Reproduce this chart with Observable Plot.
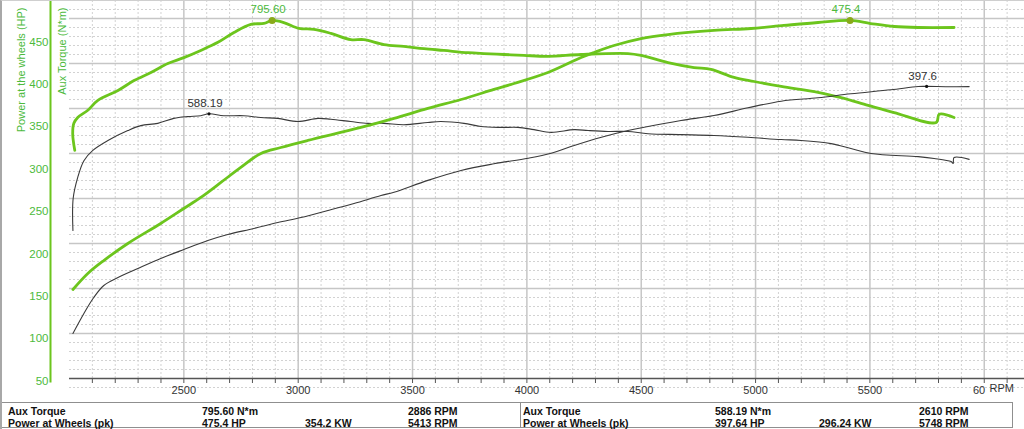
<!DOCTYPE html>
<html>
<head>
<meta charset="utf-8">
<script src="https://cdn.jsdelivr.net/npm/d3@7"></script>
<script src="https://cdn.jsdelivr.net/npm/@observablehq/plot@0.6"></script>
<style>
  body { margin: 0; background: #fff; font-family: "Liberation Sans", Arial, sans-serif; }
  #wrap { position: relative; width: 1024px; height: 429px; overflow: hidden; background: #fff; }
  #wrap svg { position: absolute; left: 0; top: 0; }
  .box { position: absolute; top: 402px; height: 26px; border: 1px solid #8f8f8f; box-sizing: border-box; background: #fff; }
  .cell { position: absolute; font-size: 10.5px; font-weight: bold; color: #111; white-space: nowrap; line-height: 12px; }
  #border { position: absolute; left: 0; top: 0; width: 1024px; height: 429px; border-left: 2px solid #a8a8a8; border-top: 1px solid #cfcfcf; box-sizing: border-box; pointer-events: none; }
</style>
</head>
<body>
<div id="wrap"></div>
<script>
// ---------- data ----------
const rpmMajor = [2500, 3000, 3500, 4000, 4500, 5000, 5500];
const rpmLast = [6000];
const rpmLastLabel = "60";
const rpmTicks = d3.range(2100, 6200, 100);
const rpmMinor = rpmTicks.filter(v => v % 500 !== 0);
const torqueMajor = [100, 200, 300, 400, 500, 600, 700, 800];
const torqueMinor = d3.range(-20, 841, 20).filter(v => v % 100 !== 0);
const powerTicks = [50, 100, 150, 200, 250, 300, 350, 400, 450];

const titlePower = "Power at the wheels (HP)";
const titleTorque = "Aux Torque (N*m)";
const unitX = "RPM";

// tuned torque (N*m)
const torqueTuned = [[2023,507],[2014,544],[2019,567],[2036,580],[2080,596],[2124,618],[2212,640],[2282,662],[2356,680],[2430,700],[2500,713],[2574,729],[2649,747],[2719,769],[2793,787],[2850,789],[2886,795.6],[2937,791],[3003,778],[3069,776],[3143,767],[3230,753],[3287,753],[3375,742],[3462,738],[3550,733],[3637,729],[3742,724],[3812,722],[3900,720],[3987,718],[4092,716],[4237,720],[4442,722],[4499,718],[4617,702],[4731,691],[4805,687],[4906,669],[4994,660],[5112,649],[5273,636],[5374,624],[5492,607],[5606,591],[5790,569],[5803,587],[5868,580]];
// stock torque (N*m)
const torqueStock = [[2015,329],[2016,400],[2036,447],[2063,484],[2102,507],[2168,529],[2255,551],[2312,562],[2386,567],[2456,578],[2517,582],[2574,584],[2610,588.19],[2675,584],[2762,584],[2837,580],[2911,578],[2999,571],[3086,578],[3143,576],[3230,571],[3305,567],[3375,567],[3462,564],[3567,569],[3624,571],[3725,567],[3799,560],[3887,558],[3961,558],[4031,553],[4106,547],[4207,553],[4268,551],[4355,549],[4442,549],[4530,544],[4674,542],[4818,540],[4967,536],[5112,531],[5199,529],[5330,522],[5417,511],[5505,500],[5711,493],[5781,489],[5855,482],[5864,478],[5868,491],[5934,487]];
// tuned power (HP)
const powerTuned = [[2015,158.1],[2080,177.0],[2150,192.3],[2255,212.4],[2399,236.0],[2500,253.7],[2574,266.7],[2662,284.4],[2749,302.1],[2837,318.6],[2924,325.6],[3042,333.9],[3274,349.2],[3419,359.9],[3567,371.7],[3712,382.2],[3856,394.1],[3944,401.1],[4092,414.0],[4237,431.7],[4294,437.6],[4381,445.9],[4499,454.1],[4617,458.8],[4818,463.6],[4980,465.9],[5124,469.5],[5273,473.0],[5413,475.4],[5503,471.8],[5606,468.3],[5711,467.1],[5868,467.1]];
// stock power (HP)
const powerStock = [[2015,106.3],[2063,129.9],[2106,148.7],[2150,162.9],[2212,172.3],[2299,182.9],[2399,194.7],[2500,205.3],[2605,215.9],[2692,223.0],[2806,230.1],[2911,237.1],[3012,243.0],[3130,251.3],[3244,259.6],[3362,268.9],[3419,272.9],[3567,286.8],[3712,298.5],[3856,306.4],[4005,313.0],[4106,318.9],[4207,328.0],[4326,337.7],[4442,345.6],[4513,349.5],[4674,357.4],[4818,363.3],[4967,372.4],[5112,380.2],[5273,384.2],[5417,388.9],[5592,393.6],[5711,397.5],[5748,397.64],[5840,397.3],[5934,397.4]];

const torquePeakTuned = [{rpm: 2886, v: 795.6, label: "795.60"}];
const torquePeakStock = [{rpm: 2610, v: 588.19, label: "588.19"}];
const powerPeakTuned = [{rpm: 5413, v: 475.4, label: "475.4"}];
const powerPeakStock = [{rpm: 5748, v: 397.64, label: "397.6"}];

const tableColsLeft = [8, 202, 305, 408];
const tableColsRight = [523, 715, 819, 919];
const tableLeft = [["Aux Torque", "795.60 N*m", "", "2886 RPM"], ["Power at Wheels (pk)", "475.4 HP", "354.2 KW", "5413 RPM"]];
const tableRight = [["Aux Torque", "588.19 N*m", "", "2610 RPM"], ["Power at Wheels (pk)", "397.64 HP", "296.24 KW", "5748 RPM"]];

// ---------- styles ----------
const GREEN = "#6cc51d";
const GREEN_TEXT = "#4cba3c";
const DOT_GREEN = "#89a91a";
const DARK = "#3a3a3a";
const FONT = "Liberation Sans, Arial, sans-serif";
const W = 1024, H = 402;
const xScale = {domain: [2000, 6176], range: [69, 1024], label: null};

const wrap = document.getElementById("wrap");

// Plot 1: grid, RPM axis, torque curves
const p1 = Plot.plot({
  width: W, height: H,
  marginLeft: 69, marginRight: 0, marginTop: 0, marginBottom: 24,
  x: {...xScale, axis: null},
  y: {domain: [0, 840], range: [378, 0], axis: null, label: null},
  style: {background: "transparent", fontFamily: FONT, fontSize: "11px", overflow: "visible"},
  marks: [
    Plot.ruleY(torqueMinor, {stroke: "#d2d2d2", strokeDasharray: "2,2"}),
    Plot.ruleX(rpmMinor, {stroke: "#d2d2d2", strokeDasharray: "2,2"}),
    Plot.ruleY(torqueMajor, {stroke: "#c6c6c6", strokeWidth: 1.5}),
    Plot.ruleX([...rpmMajor, ...rpmLast], {stroke: "#c6c6c6", strokeWidth: 1.5}),
    Plot.ruleY([0], {stroke: "#555", strokeWidth: 1.6}),
    Plot.axisX(rpmTicks, {tickSize: 5, tickFormat: () => "", stroke: "#555", label: null}),
    Plot.axisX(rpmMajor, {tickSize: 0, tickPadding: 8, fill: "#333", fontSize: 11, label: null, tickFormat: d => String(d)}),
    Plot.axisX(rpmLast, {tickSize: 0, tickPadding: 8, fill: "#333", fontSize: 11, label: null, textAnchor: "end", dx: 1, tickFormat: () => rpmLastLabel}),
    Plot.text([unitX], {frameAnchor: "bottom-right", textAnchor: "start", lineAnchor: "top", dx: -35, dy: 6, fill: "#333", fontSize: 11}),
    Plot.line(torqueStock, {x: d => d[0], y: d => d[1], stroke: DARK, strokeWidth: 1.1, curve: "catmull-rom"}),
    Plot.line(torqueTuned, {x: d => d[0], y: d => d[1], stroke: GREEN, strokeWidth: 2.8, curve: "catmull-rom"}),
    Plot.dot(torquePeakStock, {x: "rpm", y: "v", r: 1.6, fill: "#111"}),
    Plot.text(torquePeakStock, {x: "rpm", y: "v", text: "label", dx: -4, dy: -10.5, fill: "#333", fontSize: 11.5}),
    Plot.dot(torquePeakTuned, {x: "rpm", y: "v", r: 3.5, fill: DOT_GREEN}),
    Plot.text(torquePeakTuned, {x: "rpm", y: "v", text: "label", dx: -4, dy: -11, fill: GREEN_TEXT, fontSize: 11.5})
  ]
});
wrap.appendChild(p1);

// Plot 2: power axis and power curves
const p2 = Plot.plot({
  width: W, height: H,
  marginLeft: 50, marginRight: 0, marginTop: 0, marginBottom: H - 381,
  x: {...xScale, axis: null},
  y: {domain: [50, 450], range: [380.7, 41.5], axis: null, label: null},
  style: {background: "transparent", fontFamily: FONT, fontSize: "11px", overflow: "visible"},
  marks: [
    Plot.frame({anchor: "left", stroke: GREEN, strokeWidth: 2}),
    Plot.axisY(powerTicks, {anchor: "left", tickSize: 0, tickPadding: 2, fill: GREEN_TEXT, fontSize: 11.5, label: null}),
    Plot.text([titlePower], {frameAnchor: "top-left", rotate: -90, textAnchor: "end", dx: -33, dy: 7, fill: GREEN_TEXT, fontSize: 11}),
    Plot.text([titleTorque], {frameAnchor: "top-left", rotate: -90, textAnchor: "end", dx: 8, dy: 7, fill: GREEN_TEXT, fontSize: 11}),
    Plot.line(powerStock, {x: d => d[0], y: d => d[1], stroke: DARK, strokeWidth: 1.1, curve: "catmull-rom"}),
    Plot.line(powerTuned, {x: d => d[0], y: d => d[1], stroke: GREEN, strokeWidth: 2.8, curve: "catmull-rom"}),
    Plot.dot(powerPeakStock, {x: "rpm", y: "v", r: 1.6, fill: "#111"}),
    Plot.text(powerPeakStock, {x: "rpm", y: "v", text: "label", dx: -4, dy: -10.5, fill: "#333", fontSize: 11.5}),
    Plot.dot(powerPeakTuned, {x: "rpm", y: "v", r: 3.5, fill: DOT_GREEN}),
    Plot.text(powerPeakTuned, {x: "rpm", y: "v", text: "label", dx: -4, dy: -11, fill: GREEN_TEXT, fontSize: 11.5})
  ]
});
wrap.appendChild(p2);

// Peak summary table
function addBox(left, width, rows, cols) {
  const box = document.createElement("div");
  box.className = "box";
  box.style.left = left + "px";
  box.style.width = width + "px";
  wrap.appendChild(box);
  rows.forEach((row, i) => {
    row.forEach((txt, j) => {
      if (!txt) return;
      const c = document.createElement("div");
      c.className = "cell";
      c.textContent = txt;
      c.style.left = (cols[j] - left - 1) + "px";
      c.style.top = (i === 0 ? 2 : 13.5) + "px";
      box.appendChild(c);
    });
  });
}
addBox(0, 521, tableLeft, tableColsLeft);
addBox(520, 493, tableRight, tableColsRight);

const border = document.createElement("div");
border.id = "border";
wrap.appendChild(border);
</script>
</body>
</html>
